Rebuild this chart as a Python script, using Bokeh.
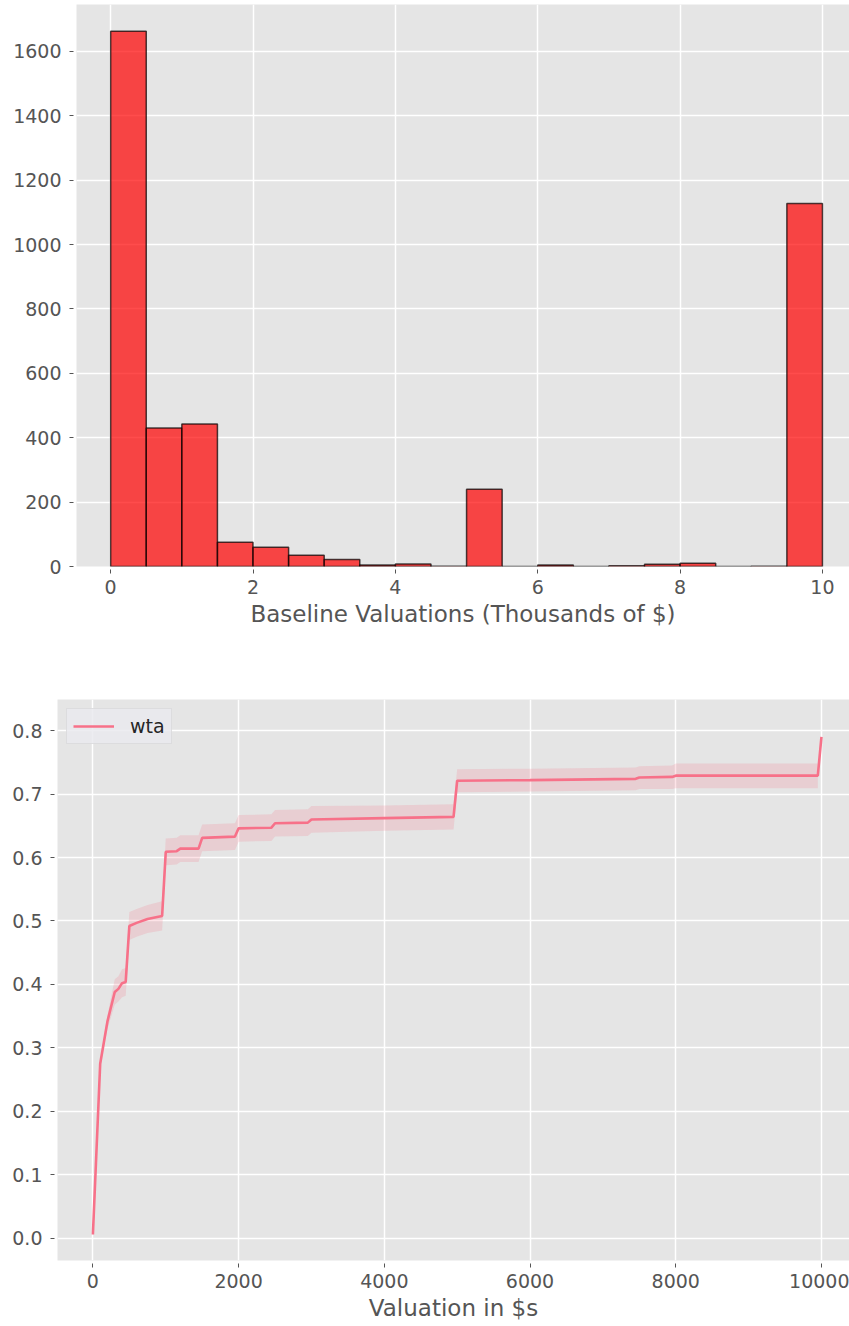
from bokeh.plotting import figure
from bokeh.models import Range1d, FixedTicker, Legend, LegendItem, NumeralTickFormatter
from bokeh.embed import file_html
from bokeh.resources import INLINE

# ---------------- data ----------------
# histogram of baseline valuations (thousands of $), bins of width 0.5
bin_left = [0.0, 0.5, 1.0, 1.5, 2.0, 2.5, 3.0, 3.5, 4.0, 4.5,
            5.0, 5.5, 6.0, 6.5, 7.0, 7.5, 8.0, 8.5, 9.0, 9.5]
bin_right = [0.5, 1.0, 1.5, 2.0, 2.5, 3.0, 3.5, 4.0, 4.5, 5.0,
             5.5, 6.0, 6.5, 7.0, 7.5, 8.0, 8.5, 9.0, 9.5, 10.0]
counts = [1663, 430, 443, 75, 60, 35, 22, 5, 8, 1,
          240, 0, 5, 0, 2, 7, 10, 0, 1, 1128]

# wta line (valuation in $) with confidence band
val = [0, 100, 200, 300, 350, 400, 450, 500, 600, 750, 950,
       1000, 1150, 1200, 1450, 1500, 1950, 2000, 2450, 2500, 2950,
       3000, 4000, 4950, 5000, 6000, 7450, 7500, 7950, 8000, 9950, 10000]
wta = [0.006, 0.275, 0.342, 0.388, 0.393, 0.402, 0.404, 0.492, 0.497, 0.503, 0.508,
       0.609, 0.610, 0.614, 0.614, 0.631, 0.633, 0.646, 0.647, 0.654, 0.655,
       0.660, 0.662, 0.664, 0.721, 0.722, 0.724, 0.726, 0.727, 0.729, 0.729, 0.790]
wta_lo = [0.006, 0.270, 0.330, 0.368, 0.373, 0.380, 0.382, 0.470, 0.475, 0.481, 0.485,
          0.588, 0.589, 0.593, 0.593, 0.610, 0.612, 0.625, 0.626, 0.633, 0.634,
          0.639, 0.642, 0.644, 0.703, 0.704, 0.706, 0.708, 0.708, 0.709, 0.709]
wta_hi = [0.006, 0.280, 0.352, 0.408, 0.413, 0.424, 0.426, 0.514, 0.519, 0.525, 0.531,
          0.630, 0.631, 0.635, 0.635, 0.652, 0.654, 0.667, 0.668, 0.675, 0.676,
          0.681, 0.682, 0.684, 0.739, 0.740, 0.742, 0.744, 0.745, 0.748, 0.748]

hist_xticks = [0, 2, 4, 6, 8, 10]
hist_yticks = [0, 200, 400, 600, 800, 1000, 1200, 1400, 1600]
line_xticks = [0, 2000, 4000, 6000, 8000, 10000]
line_yticks = [0.0, 0.1, 0.2, 0.3, 0.4, 0.5, 0.6, 0.7, 0.8]

FONT = "DejaVu Sans"
BG = "#E5E5E5"
TXT = "#555555"
LINE_C = "#f77189"


def style(p, xlabel):
    p.background_fill_color = BG
    p.border_fill_color = "white"
    p.outline_line_color = None
    p.grid.grid_line_color = "white"
    p.grid.grid_line_width = 1.5
    for ax in p.axis:
        ax.axis_line_color = None
        ax.major_tick_line_color = TXT
        ax.major_tick_line_width = 1
        ax.major_tick_in = -3
        ax.major_tick_out = 7
        ax.minor_tick_line_color = None
        ax.major_label_text_font = FONT
        ax.major_label_text_font_size = "19px"
        ax.major_label_text_color = TXT
        ax.axis_label_text_font = FONT
        ax.axis_label_text_font_size = "23px"
        ax.axis_label_text_color = TXT
        ax.axis_label_text_font_style = "normal"
    p.xaxis.axis_label = xlabel
    p.xaxis.major_label_standoff = 6
    p.xaxis.axis_label_standoff = 4
    p.yaxis.major_label_standoff = 8


# ---------------- top: histogram ----------------
p1 = figure(width=849, height=660, output_backend="svg", toolbar_location=None,
            x_range=Range1d(-0.48, 10.38), y_range=Range1d(0, 1746),
            min_border_left=76, min_border_right=0, min_border_top=4, min_border_bottom=94)
p1.quad(left=bin_left, right=bin_right, bottom=0, top=counts,
        fill_color="red", fill_alpha=0.7, line_color="black", line_alpha=0.7, line_width=1.5)
p1.xaxis.ticker = FixedTicker(ticks=hist_xticks)
p1.yaxis.ticker = FixedTicker(ticks=hist_yticks)
style(p1, "Baseline Valuations (Thousands of $)")

# ---------------- bottom: line with band ----------------
p2 = figure(width=849, height=666, output_backend="svg", toolbar_location=None,
            x_range=Range1d(-486, 10385), y_range=Range1d(-0.035, 0.849),
            min_border_left=57, min_border_right=0, min_border_top=39, min_border_bottom=66)
p2.varea(x=val[:len(wta_lo)], y1=wta_lo, y2=wta_hi, fill_color=LINE_C, fill_alpha=0.2)
ln = p2.line(val, wta, line_color=LINE_C, line_width=2.6)
p2.xaxis.ticker = FixedTicker(ticks=line_xticks)
p2.yaxis.ticker = FixedTicker(ticks=line_yticks)
p2.yaxis.formatter = NumeralTickFormatter(format="0.0")
style(p2, "Valuation in $s")

leg = Legend(items=[LegendItem(label="wta", renderers=[ln])], location="top_left")
leg.margin = 9
leg.padding = 6
leg.spacing = 0
leg.glyph_width = 41
leg.glyph_height = 22
leg.label_standoff = 16
leg.label_height = 22
leg.label_text_font = FONT
leg.label_text_font_size = "19px"
leg.label_text_color = "#262626"
leg.background_fill_color = "#EAEAEE"
leg.background_fill_alpha = 0.85
leg.border_line_color = "#CFCFCF"
leg.border_line_width = 1
p2.add_layout(leg)

open("out.html", "w").write(file_html([p1, p2], INLINE))
